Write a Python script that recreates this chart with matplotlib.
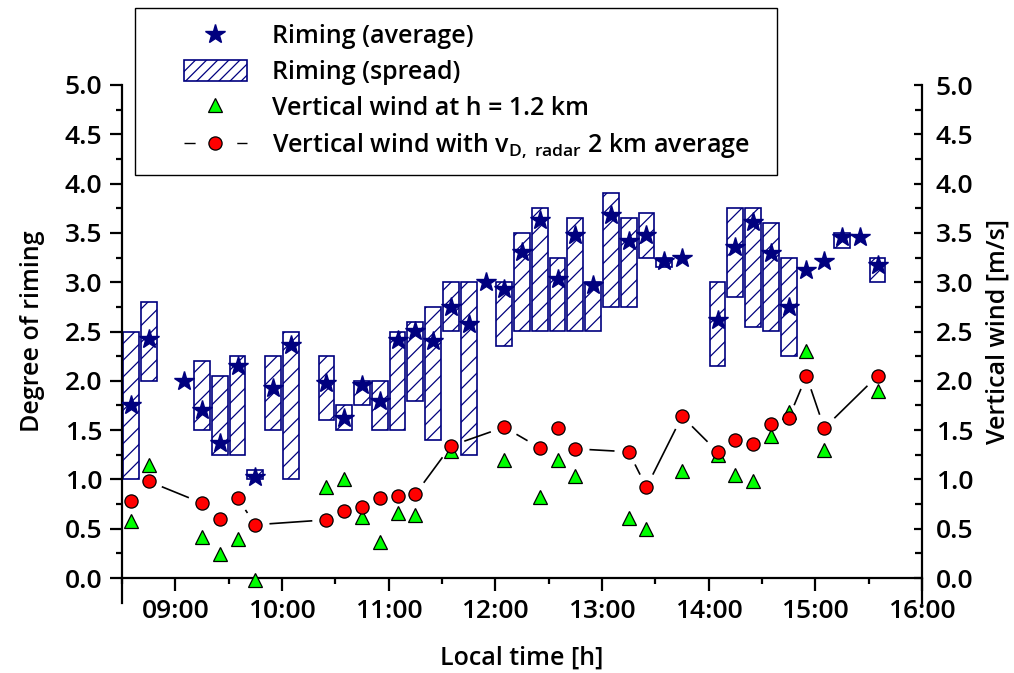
import numpy as np
import matplotlib
matplotlib.use("Agg")
import matplotlib.pyplot as plt
from matplotlib.lines import Line2D
from matplotlib.patches import Patch, Rectangle
from matplotlib.ticker import MultipleLocator, FuncFormatter

plt.rcParams['font.family'] = ['Open Sans', 'DejaVu Sans']
plt.rcParams['font.weight'] = 'semibold'
plt.rcParams['axes.labelweight'] = 'semibold'
plt.rcParams['mathtext.fontset'] = 'custom'
plt.rcParams['mathtext.rm'] = 'Open Sans:semibold'
plt.rcParams['mathtext.it'] = 'Open Sans:italic:semibold'
plt.rcParams['hatch.linewidth'] = 0.9

NAVY = '#00007f'
GREEN = '#00ff00'
RED = '#ff0000'

# Degree of riming: 10-minute averages
riming_time = ["08:35", "08:45", "09:05", "09:15", "09:25", "09:35", "09:45", "09:55",
               "10:05", "10:25", "10:35", "10:45", "10:55", "11:05", "11:15", "11:25",
               "11:35", "11:45", "11:55", "12:05", "12:15", "12:25", "12:35", "12:45",
               "12:55", "13:05", "13:15", "13:25", "13:35", "13:45", "14:05", "14:15",
               "14:25", "14:35", "14:45", "14:55", "15:05", "15:15", "15:25", "15:35"]
riming_avg = [1.75, 2.42, 2.00, 1.70, 1.37, 2.15, 1.02, 1.93,
              2.36, 1.98, 1.62, 1.96, 1.80, 2.41, 2.51, 2.40,
              2.75, 2.58, 3.00, 2.93, 3.31, 3.63, 3.03, 3.48,
              2.97, 3.68, 3.42, 3.48, 3.22, 3.25, 2.62, 3.36,
              3.61, 3.30, 2.75, 3.12, 3.22, 3.46, 3.46, 3.17]

# Degree of riming: spread (min / max) within each interval
spread_time = ["08:35", "08:45", "09:15", "09:25", "09:35", "09:45", "09:55", "10:05",
               "10:25", "10:35", "10:45", "10:55", "11:05", "11:15", "11:25", "11:35",
               "11:45", "12:05", "12:15", "12:25", "12:35", "12:45", "12:55", "13:05",
               "13:15", "13:25", "13:35", "14:05", "14:15", "14:25", "14:35", "14:45",
               "15:15", "15:35"]
spread_min = [1.00, 2.00, 1.50, 1.25, 1.25, 1.00, 1.50, 1.00,
              1.60, 1.50, 1.75, 1.50, 1.50, 1.80, 1.40, 2.50,
              1.25, 2.35, 2.50, 2.50, 2.50, 2.50, 2.50, 2.75,
              2.75, 3.25, 3.15, 2.15, 2.85, 2.55, 2.50, 2.25,
              3.35, 3.00]
spread_max = [2.50, 2.80, 2.20, 2.05, 2.25, 1.10, 2.25, 2.50,
              2.25, 1.75, 2.00, 2.00, 2.50, 2.60, 2.75, 3.00,
              3.00, 3.00, 3.50, 3.75, 3.25, 3.65, 3.00, 3.90,
              3.65, 3.70, 3.25, 3.00, 3.75, 3.75, 3.60, 3.25,
              3.50, 3.25]

# Vertical wind
wind_time = ["08:35", "08:45", "09:15", "09:25", "09:35", "09:45", "10:25", "10:35",
             "10:45", "10:55", "11:05", "11:15", "11:35", "12:05", "12:25", "12:35",
             "12:45", "13:15", "13:25", "13:45", "14:05", "14:15", "14:25", "14:35",
             "14:45", "14:55", "15:05", "15:35"]
wind_h12 = [0.58, 1.15, 0.42, 0.24, 0.40, -0.02, 0.92, 1.00,
            0.62, 0.37, 0.66, 0.64, 1.29, 1.20, 0.82, 1.20,
            1.03, 0.61, 0.50, 1.09, 1.25, 1.04, 0.98, 1.44,
            1.68, 2.30, 1.30, 1.90]
wind_radar = [0.78, 0.98, 0.76, 0.60, 0.81, 0.54, 0.59, 0.68,
              0.72, 0.81, 0.83, 0.85, 1.34, 1.53, 1.32, 1.52,
              1.31, 1.28, 0.92, 1.64, 1.28, 1.40, 1.36, 1.56,
              1.62, 2.05, 1.52, 2.05]

x_ticks = ["09:00", "10:00", "11:00", "12:00", "13:00", "14:00", "15:00", "16:00"]


def hours(stamps):
    return np.array([int(s[:2]) + int(s[3:]) / 60.0 for s in stamps])


t_rim = hours(riming_time)
t_spr = hours(spread_time)
t_wind = hours(wind_time)
spr_lo = np.array(spread_min)
spr_hi = np.array(spread_max)

fig = plt.figure(figsize=(10.14, 6.73), dpi=100)
W, H = 1014, 673
ax = fig.add_axes([122 / W, 1 - 578 / H, 800 / W, 493 / H])
ax.set_xlim(8.5, 16.0)
ax.set_ylim(0, 5)

# spread boxes and averages
ax.bar(t_spr, spr_hi - spr_lo, bottom=spr_lo, width=0.148, facecolor='white',
       edgecolor=NAVY, hatch='//', linewidth=1.2, zorder=2)
ax.plot(t_rim, riming_avg, linestyle='none', marker='*', markersize=15,
        color=NAVY, zorder=4)

# vertical wind
ax.plot(t_wind, wind_h12, linestyle='none', marker='^', markersize=10,
        markerfacecolor=GREEN, markeredgecolor='black', markeredgewidth=0.9,
        zorder=5, clip_on=False)

# connecting line with a gap around each symbol
gap = 15.0
pix = ax.transData.transform(np.column_stack([t_wind, wind_radar]))
inv = ax.transData.inverted()
for p1, p2 in zip(pix[:-1], pix[1:]):
    d = p2 - p1
    L = np.hypot(*d)
    if L > 2 * gap + 1:
        u = d / L
        seg = inv.transform(np.vstack([p1 + u * gap, p2 - u * gap]))
        ax.plot(seg[:, 0], seg[:, 1], color='black', linewidth=1.2, zorder=5)

ax.plot(t_wind, wind_radar, linestyle='none', marker='o', markersize=9.5,
        markerfacecolor=RED, markeredgecolor='black', markeredgewidth=0.9, zorder=6)

# axes styling
for s in ['top', 'right']:
    ax.spines[s].set_visible(False)
ax.spines['left'].set_linewidth(1.6)
ax.spines['bottom'].set_linewidth(1.6)
ax.spines['left'].set_bounds(-0.25, 5.0)

ax.xaxis.set_major_locator(MultipleLocator(1.0))
ax.xaxis.set_minor_locator(MultipleLocator(0.5))
ax.xaxis.set_major_formatter(FuncFormatter(lambda x, p: x_ticks[int(round(x)) - 9]
                                           if 9 <= round(x) <= 16 else ""))
ax.yaxis.set_major_locator(MultipleLocator(0.5))
ax.yaxis.set_minor_locator(MultipleLocator(0.25))
ax.yaxis.set_major_formatter(FuncFormatter(lambda v, p: f"{v:.1f}"))
ax.tick_params(which='major', direction='out', length=9, width=1.6, labelsize=19)
ax.tick_params(which='minor', direction='out', length=4.5, width=1.6)
ax.tick_params(axis='x', pad=6)
ax.tick_params(axis='y', pad=5)

ax.set_xlabel("Local time [h]", fontsize=18, labelpad=16)
ax.set_ylabel("Degree of riming", fontsize=18, labelpad=14)

ax2 = ax.twinx()
ax2.set_ylim(0, 5)
for s in ['top', 'left', 'bottom']:
    ax2.spines[s].set_visible(False)
ax2.spines['right'].set_linewidth(1.6)
ax2.spines['right'].set_bounds(-0.25, 5.0)
ax2.yaxis.set_major_locator(MultipleLocator(0.5))
ax2.yaxis.set_minor_locator(MultipleLocator(0.25))
ax2.yaxis.set_major_formatter(FuncFormatter(lambda v, p: f"{v:.1f}"))
ax2.tick_params(which='major', direction='in', length=6, width=1.6, labelsize=19, pad=10)
ax2.tick_params(which='minor', direction='in', length=5, width=1.6)
ax2.set_ylabel("Vertical wind [m/s]", fontsize=18, labelpad=9)
ax2.patch.set_visible(False)

# legend
handles = [
    Line2D([], [], linestyle='none', marker='*', markersize=15, color=NAVY),
    Patch(facecolor='white', edgecolor=NAVY, hatch='///', linewidth=1.2),
    Line2D([], [], linestyle='none', marker='^', markersize=10,
           markerfacecolor=GREEN, markeredgecolor='black', markeredgewidth=0.9),
    Line2D([], [], color='black', linewidth=1.0, linestyle=(0, (8, 30)),
           marker='o', markersize=9.5, markerfacecolor=RED,
           markeredgecolor='black', markeredgewidth=0.9),
]
labels = ["Riming (average)", "Riming (spread)", "Vertical wind at h = 1.2 km",
          r"Vertical wind with v$_{\mathrm{D,\ radar}}$ 2 km average"]
fig.legend(handles, labels, loc='upper left', bbox_to_anchor=(184 / W, 1 - 24 / H),
           frameon=False, borderpad=0, borderaxespad=0, fontsize=18,
           handlelength=2.5, handleheight=0.95, handletextpad=1.0, labelspacing=0.42)
fig.patches.append(Rectangle((135 / W, 1 - 175 / H), 642 / W, 167 / H,
                             transform=fig.transFigure, fill=False,
                             edgecolor='black', linewidth=1.0, zorder=10))

fig.savefig("out.png", dpi=100)
